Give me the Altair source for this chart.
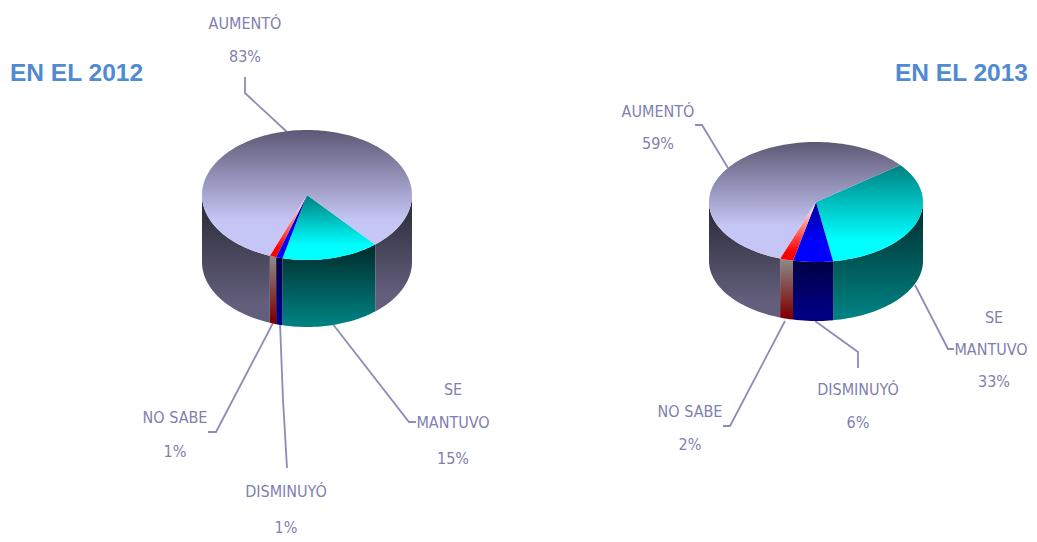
import math
import altair as alt
import pandas as pd

CATEGORIES = ["SE MANTUVO", "DISMINUYÓ", "NO SABE", "AUMENTÓ"]
VALUES_2012 = [15, 1, 1, 83]
VALUES_2013 = [33, 6, 2, 59]
TITLES = ["EN EL 2012", "EN EL 2013"]

PIES = [
    dict(values=VALUES_2012, cx=307, cy=195, rx=105, ry=65, depth=67, start=139.5),
    dict(values=VALUES_2013, cx=816, cy=202, rx=107, ry=60, depth=59, start=52),
]

TOP_COLORS = {
    "SE MANTUVO": ("#008080", "#00ffff", 0.78),
    "DISMINUYÓ": ("#0000a0", "#0000ff", 0.7),
    "NO SABE": ("#ffffff", "#ff0000", 0.85),
    "AUMENTÓ": ("#5c5874", "#c6c6f6", 0.72),
}
WALL_COLORS = {
    "SE MANTUVO": ("#002a2a", "#008080", 0.95),
    "DISMINUYÓ": ("#000040", "#000080", 0.8),
    "NO SABE": ("#8c8c8c", "#800000", 0.95),
    "AUMENTÓ": ("#282834", "#625e7c", 0.85),
}

LABELS = [
    ("AUMENTÓ", 245, 24), ("83%", 245, 57),
    ("SE", 453, 390), ("MANTUVO", 453, 423), ("15%", 453, 459),
    ("NO SABE", 175, 418), ("1%", 175, 452),
    ("DISMINUYÓ", 286, 492), ("1%", 286, 528),
    ("AUMENTÓ", 658, 112), ("59%", 658, 144),
    ("NO SABE", 690, 412), ("2%", 690, 445),
    ("DISMINUYÓ", 858, 390), ("6%", 858, 423),
    ("SE", 994, 318), ("MANTUVO", 991, 350), ("33%", 994, 382),
]
LEADERS = [
    [(245, 77), (245, 93), (287, 132)],
    [(208, 432), (216, 432), (273, 323)],
    [(280, 323), (283, 400), (287, 468)],
    [(332, 323), (409, 422), (416, 422)],
    [(695, 125), (702, 125), (728, 168)],
    [(723, 426), (730, 426), (785, 321)],
    [(815, 321), (858, 352), (858, 368)],
    [(915, 285), (948, 349), (954, 349)],
]

W, H = 1021, 532
X = alt.X("x:Q", axis=None, scale=alt.Scale(domain=[8, 8 + W], nice=False, zero=False))
Y = alt.Y("y:Q", axis=None, scale=alt.Scale(domain=[8 + H, 8], nice=False, zero=False))


def pt(p, t, dy=0.0):
    r = math.radians(t)
    return p["cx"] + p["rx"] * math.sin(r), p["cy"] - p["ry"] * math.cos(r) + dy


def arc(a, b):
    n = max(2, int(abs(b - a) / 2) + 1)
    return [a + (b - a) * i / n for i in range(n + 1)]


def poly(points, colors):
    c0, c1, off = colors
    df = pd.DataFrame(points, columns=["x", "y"])
    df["i"] = range(len(df))
    grad = alt.Gradient(
        gradient="linear", x1=0, x2=0, y1=0, y2=1,
        stops=[alt.GradientStop(color=c0, offset=0),
               alt.GradientStop(color=c1, offset=off),
               alt.GradientStop(color=c1, offset=1)],
    )
    return alt.Chart(df).mark_line(fill=grad, stroke=None, interpolate="linear").encode(
        x=X, y=Y, order=alt.Order("i:Q")
    )


layers = []
for p in PIES:
    t = p["start"]
    spans = []
    for cat, v in zip(CATEGORIES, p["values"]):
        spans.append((cat, t, t + v * 3.6))
        t += v * 3.6
    for cat, a, b in spans:
        for lo, hi in ((90, 270), (450, 630)):
            s, e = max(a, lo), min(b, hi)
            if e > s:
                ts = arc(s, e)
                pts = [pt(p, u) for u in ts] + [pt(p, u, p["depth"]) for u in reversed(ts)]
                pts.append(pts[0])
                layers.append(poly(pts, WALL_COLORS[cat]))
    for cat, a, b in spans:
        pts = [(p["cx"], p["cy"])] + [pt(p, u) for u in arc(a, b)] + [(p["cx"], p["cy"])]
        layers.append(poly(pts, TOP_COLORS[cat]))

rows = []
for k, line in enumerate(LEADERS):
    for i, (x, y) in enumerate(line):
        rows.append(dict(x=x, y=y, k=k, i=i))
leaders = alt.Chart(pd.DataFrame(rows)).mark_line(color="#8c8cb8", strokeWidth=1.8).encode(
    x=X, y=Y, detail="k:N", order=alt.Order("i:Q")
)

labels = alt.Chart(pd.DataFrame(LABELS, columns=["t", "x", "y"])).mark_text(
    font="'DejaVu Sans Condensed', 'Roboto Condensed', Roboto, sans-serif",
    fontSize=16, color="#7f7fb0", align="center", baseline="middle"
).encode(x=X, y=Y, text="t:N")

titles = alt.Chart(pd.DataFrame({"t": TITLES, "x": [10, 1028], "y": [74, 74], "a": ["l", "r"]}))
title_l = titles.transform_filter("datum.a == 'l'").mark_text(
    font="Liberation Sans", fontWeight="bold", fontSize=24.5, color="#4f8ad2", align="left", baseline="middle"
).encode(x=X, y=Y, text="t:N")
title_r = titles.transform_filter("datum.a == 'r'").mark_text(
    font="Liberation Sans", fontWeight="bold", fontSize=24.5, color="#4f8ad2", align="right", baseline="middle"
).encode(x=X, y=Y, text="t:N")

chart = alt.layer(leaders, *layers, labels, title_l, title_r).properties(
    width=W, height=H, padding=0, background="white",
    autosize=alt.AutoSizeParams(type="none"),
).configure_view(stroke=None)

chart.save("out.html", embed_options={"renderer": "svg", "actions": False})
